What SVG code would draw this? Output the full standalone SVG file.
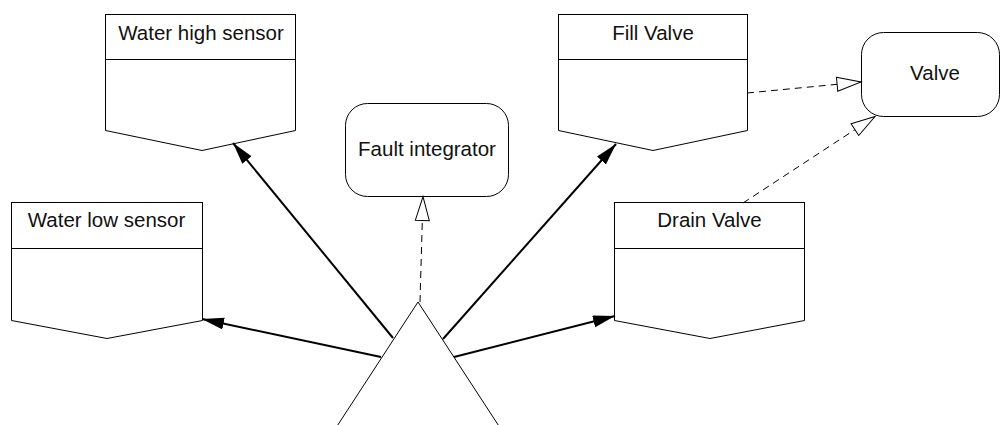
<svg xmlns="http://www.w3.org/2000/svg" width="1003" height="425" viewBox="0 0 1003 425">
  <style>
    .box { fill: #ffffff; stroke: #000000; stroke-width: 1; }
    .label { font-family: "Liberation Sans", Arial, sans-serif; font-size: 20.5px; fill: #111111; text-anchor: middle; }
    .assoc { fill: none; stroke: #000000; stroke-width: 2; }
    .dep { fill: none; stroke: #000000; stroke-width: 1; stroke-dasharray: 7 5; }
  </style>
  <defs>
    <marker id="solidHead" markerUnits="userSpaceOnUse" markerWidth="24" markerHeight="14" refX="22" refY="6" orient="auto">
      <path d="M0,0 L22,6 L0,12 z" fill="#000000"/>
    </marker>
    <marker id="hollowHead" markerUnits="userSpaceOnUse" markerWidth="28" markerHeight="18" refX="25" refY="8" orient="auto">
      <path d="M1,1 L25,8 L1,15 z" fill="#ffffff" stroke="#000000" stroke-width="1"/>
    </marker>
  </defs>

  <rect width="1003" height="425" fill="#ffffff"/>

  <!-- sensor / valve blocks: header box over a pennant-shaped body -->
  <g id="water-high-sensor">
    <path class="box" d="M105.5,59.5 L295.5,59.5 L295.5,130.5 L202,150.5 L105.5,130.5 Z"/>
    <rect class="box" x="105.5" y="14.5" width="190" height="45"/>
    <text class="label" x="201" y="40">Water high sensor</text>
  </g>

  <g id="fill-valve">
    <path class="box" d="M558.5,59.5 L747.5,59.5 L747.5,130.5 L653,150.5 L558.5,130.5 Z"/>
    <rect class="box" x="558.5" y="14.5" width="189" height="45"/>
    <text class="label" x="653" y="40">Fill Valve</text>
  </g>

  <g id="water-low-sensor">
    <path class="box" d="M11.5,248.5 L202.5,248.5 L202.5,320.5 L107,338.5 L11.5,320.5 Z"/>
    <rect class="box" x="11.5" y="202.5" width="191" height="46"/>
    <text class="label" x="106.5" y="227">Water low sensor</text>
  </g>

  <g id="drain-valve">
    <path class="box" d="M614.5,248.5 L804.5,248.5 L804.5,320.5 L710,338.5 L614.5,320.5 Z"/>
    <rect class="box" x="614.5" y="202.5" width="190" height="46"/>
    <text class="label" x="709.5" y="227">Drain Valve</text>
  </g>

  <g id="fault-integrator">
    <rect class="box" x="345.5" y="103.5" width="163" height="93" rx="22" ry="22"/>
    <text class="label" x="427" y="156">Fault integrator</text>
  </g>

  <g id="valve">
    <rect class="box" x="861.5" y="32.5" width="138" height="84" rx="22" ry="22"/>
    <text class="label" x="935" y="80">Valve</text>
  </g>

  <g id="controller">
    <path class="box" d="M418,302 L328,440 L508,440 Z"/>
  </g>

  <!-- connectors -->
  <g id="connectors">
    <path class="assoc" d="M393,338 L233,143" marker-end="url(#solidHead)"/>
    <path class="assoc" d="M381,357 L202,319" marker-end="url(#solidHead)"/>
    <path class="assoc" d="M443,339 L616,144" marker-end="url(#solidHead)"/>
    <path class="assoc" d="M454,357 L615,316" marker-end="url(#solidHead)"/>
    <path class="dep" d="M420,302 L423,196.5" marker-end="url(#hollowHead)"/>
    <path class="dep" d="M747,93 L861,82" marker-end="url(#hollowHead)"/>
    <path class="dep" d="M743,203 L875,116.5" marker-end="url(#hollowHead)"/>
  </g>
</svg>
